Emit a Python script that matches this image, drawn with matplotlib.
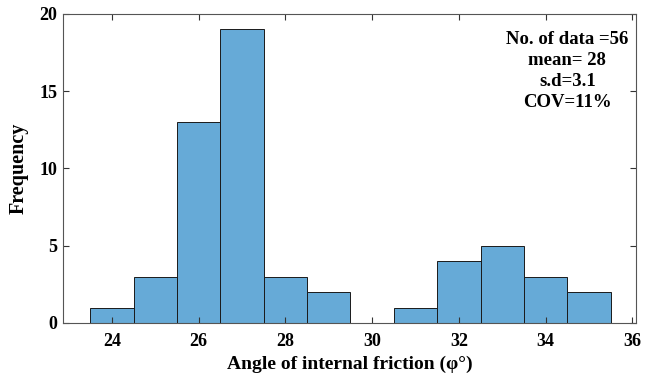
import matplotlib
matplotlib.use("Agg")
import matplotlib.pyplot as plt
import numpy as np

bin_edges = [23.5, 24.5, 25.5, 26.5, 27.5, 28.5, 29.5, 30.5, 31.5, 32.5, 33.5, 34.5, 35.5]
counts = [1, 3, 13, 19, 3, 2, 0, 1, 4, 5, 3, 2]
xticks = [24, 26, 28, 30, 32, 34, 36]
yticks = [0, 5, 10, 15, 20]
stats_text = "No. of data =56\nmean= 28\ns.d=3.1\nCOV=11%"

plt.rcParams['font.family'] = ['Liberation Serif', 'DejaVu Serif']
plt.rcParams['font.weight'] = 'bold'

fig = plt.figure(figsize=(6.53, 3.76), dpi=100)
ax = fig.add_axes([0.0965, 0.141, 0.8775, 0.822])

lefts = np.array(bin_edges[:-1])
widths = np.diff(bin_edges)
ax.bar(lefts, counts, width=widths, align='edge', color=(0.4, 0.668, 0.845),
       edgecolor=(0.1, 0.1, 0.1), linewidth=0.7)

ax.set_xlim(22.875, 36.085)
ax.set_ylim(0, 20)
ax.set_xticks(xticks)
ax.set_yticks(yticks)
ax.tick_params(direction='in', top=True, right=True, labelsize=13, length=4,
               width=0.8, color='#333333')
ax.tick_params(axis='y', pad=4)
ax.tick_params(axis='x', pad=7)
for lbl in ax.get_xticklabels() + ax.get_yticklabels():
    lbl.set_fontweight('bold')
for s in ax.spines.values():
    s.set_color('#555555')
    s.set_linewidth(0.8)

ax.set_xlabel('Angle of internal friction (φ°)', fontsize=14, fontweight='bold', labelpad=4)
ax.set_ylabel('Frequency', fontsize=14.5, fontweight='bold', labelpad=8)

ax.text(0.88, 0.945, stats_text, transform=ax.transAxes, ha='center', va='top',
        fontsize=13.5, fontweight='bold', linespacing=1.3)

fig.savefig('out.png', dpi=100)
